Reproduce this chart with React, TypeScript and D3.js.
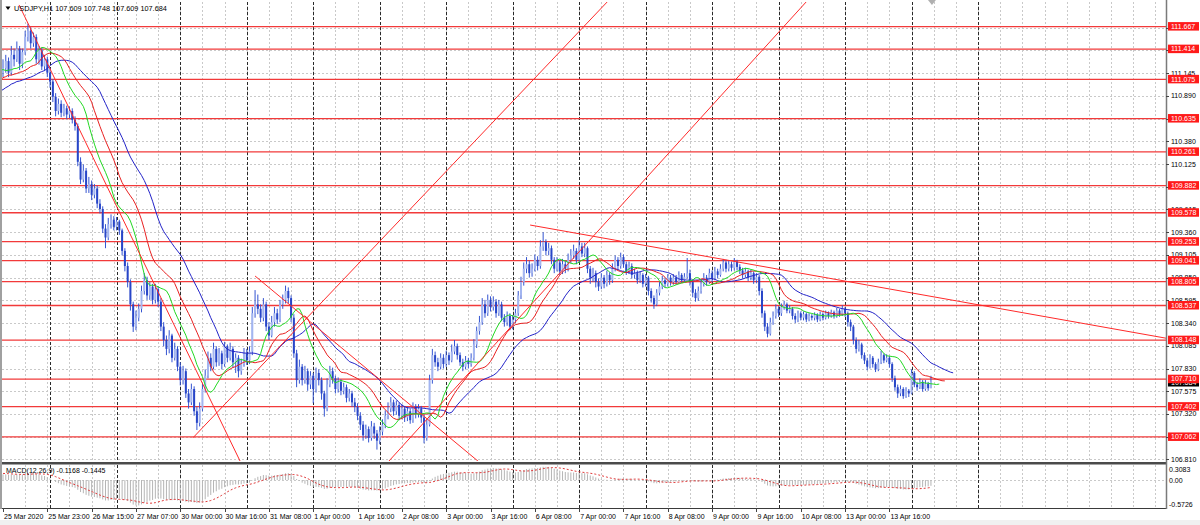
import React from "react";
import * as d3 from "d3";

// ---------- DATA (USDJPY H1) ----------
const symbolTitle = "USDJPY,H1";
const lastQuote = ["107.609", "107.748", "107.609", "107.684"];
const macdTitle = "MACD(12,26,9) -0.1168 -0.1445";

// prices of the hours before the first visible bar (indicator warm-up only)
const warmup = [110.62, 110.70, 110.66, 110.78, 110.85, 110.80, 110.92, 110.98, 110.90, 111.02, 111.10, 111.05,
  111.15, 111.08, 111.18, 111.22, 111.12, 111.25, 111.20, 111.30, 111.18, 111.25, 111.12, 111.20];

const firstOpen = 111.15;
const closes = [
  111.20,111.28,111.15,111.35,111.30,111.42,111.25,111.38,111.55,111.62,
  111.48,111.55,111.30,111.40,111.22,111.30,111.15,111.05,110.88,110.72,
  110.80,110.70,110.75,110.68,110.72,110.62,110.55,110.15,109.95,110.05,
  109.85,109.90,109.78,109.85,109.68,109.62,109.40,109.30,109.45,109.50,
  109.42,109.48,109.38,109.15,108.98,108.80,108.55,108.30,108.40,108.50,
  108.70,108.82,108.65,108.75,108.60,108.72,108.58,108.30,108.15,108.05,
  108.20,107.95,108.05,107.85,107.70,107.80,107.55,107.45,107.60,107.35,
  107.22,107.38,107.60,107.75,107.95,107.85,108.05,107.90,108.00,107.88,
  108.08,107.95,108.05,107.90,107.95,107.80,107.88,108.00,107.92,108.02,
  108.45,108.55,108.50,108.40,108.55,108.30,108.20,108.35,108.45,108.38,
  108.55,108.60,108.70,108.62,108.40,108.00,107.70,107.85,107.70,107.80,
  107.65,107.75,107.60,107.78,107.70,107.55,107.38,107.65,107.80,107.72,
  107.60,107.68,107.58,107.62,107.50,107.55,107.45,107.40,107.30,107.20,
  107.08,107.15,107.05,107.18,107.10,107.02,107.12,107.20,107.30,107.38,
  107.45,107.35,107.42,107.30,107.38,107.28,107.35,107.25,107.40,107.32,
  107.38,107.28,107.05,107.20,107.70,107.98,107.90,107.85,107.95,107.88,
  107.98,107.92,108.02,108.08,107.98,107.90,107.85,107.92,107.88,107.95,
  108.10,108.25,108.35,108.55,108.45,108.60,108.52,108.58,108.45,108.55,
  108.40,108.35,108.42,108.30,108.38,108.45,108.65,108.80,108.95,109.00,
  108.90,108.95,109.05,108.98,109.20,109.25,109.15,109.18,109.05,108.95,
  109.02,108.92,109.00,108.95,109.05,109.10,109.15,109.05,109.20,109.12,
  109.18,108.95,108.85,108.90,108.80,108.75,108.85,108.78,108.88,108.82,
  108.95,109.05,108.98,109.08,109.00,108.92,108.98,108.88,108.90,108.82,
  108.88,108.78,108.85,108.70,108.62,108.55,108.68,108.75,108.82,108.78,
  108.85,108.80,108.85,108.80,108.88,108.82,108.86,108.90,108.80,108.68,
  108.62,108.70,108.78,108.85,108.80,108.90,108.84,108.92,108.88,108.95,
  109.02,108.95,109.00,108.96,109.03,108.97,108.93,108.88,108.92,108.85,
  108.90,108.82,108.86,108.70,108.45,108.30,108.22,108.35,108.42,108.50,
  108.45,108.52,108.55,108.48,108.50,108.42,108.38,108.45,108.40,108.44,
  108.38,108.42,108.40,108.43,108.38,108.44,108.40,108.45,108.42,108.46,
  108.42,108.48,108.44,108.50,108.45,108.35,108.30,108.15,108.05,108.10,
  107.98,107.92,107.85,107.95,107.88,107.82,107.90,107.98,107.92,107.95,
  107.88,107.72,107.62,107.55,107.60,107.52,107.58,107.55,107.78,107.65,
  107.62,107.68,107.60,107.66,107.609,107.684,
];
const highs = [
  111.30,111.35,111.32,111.45,111.42,111.50,111.45,111.42,111.62,111.70,
  111.66,111.60,111.58,111.45,111.43,111.35,111.33,111.20,111.08,110.92,
  110.86,110.84,110.80,110.78,110.77,110.75,110.66,110.58,110.20,110.12,
  110.08,109.98,109.94,109.90,109.88,109.73,109.65,109.45,109.52,109.56,
  109.54,109.53,109.50,109.40,109.18,109.02,108.83,108.58,108.48,108.56,
  108.76,108.90,108.86,108.80,108.78,108.78,108.75,108.62,108.35,108.20,
  108.26,108.22,108.12,108.08,107.90,107.86,107.83,107.60,107.66,107.63,
  107.40,107.45,107.66,107.82,108.02,108.00,108.12,108.08,108.06,108.03,
  108.13,108.10,108.12,108.08,108.00,107.98,107.94,108.06,108.05,108.08,
  108.52,108.71,108.66,108.55,108.62,108.58,108.35,108.42,108.52,108.50,
  108.60,108.66,108.76,108.74,108.65,108.44,108.04,107.93,107.88,107.86,
  107.83,107.80,107.78,107.84,107.82,107.73,107.58,107.72,107.86,107.84,
  107.75,107.73,107.71,107.67,107.65,107.60,107.58,107.50,107.44,107.34,
  107.24,107.20,107.18,107.24,107.22,107.14,107.18,107.26,107.36,107.45,
  107.51,107.48,107.47,107.45,107.43,107.41,107.40,107.38,107.45,107.43,
  107.43,107.41,107.31,107.26,107.76,108.05,108.02,107.95,108.00,107.99,
  108.03,108.01,108.10,108.15,108.11,108.01,107.94,107.97,107.95,108.00,
  108.16,108.30,108.42,108.62,108.60,108.66,108.64,108.64,108.61,108.60,
  108.58,108.44,108.47,108.45,108.43,108.50,108.70,108.86,109.02,109.08,
  109.04,109.01,109.11,109.09,109.27,109.36,109.28,109.24,109.21,109.08,
  109.08,109.05,109.06,109.04,109.12,109.17,109.22,109.18,109.27,109.24,
  109.24,109.20,108.98,108.96,108.93,108.84,108.90,108.88,108.93,108.91,
  109.01,109.10,109.08,109.13,109.11,109.03,109.03,109.01,108.95,108.93,
  108.92,108.90,108.89,108.87,108.73,108.65,108.72,108.80,108.87,108.85,
  108.89,108.88,108.89,108.88,108.92,108.90,108.90,109.07,108.94,108.83,
  108.72,108.75,108.83,108.90,108.88,108.95,108.93,108.97,108.95,109.00,
  109.06,109.05,109.04,109.03,109.07,109.05,109.00,108.96,108.96,108.94,
  108.94,108.92,108.90,108.88,108.73,108.48,108.34,108.40,108.47,108.55,
  108.53,108.56,108.59,108.57,108.54,108.52,108.45,108.48,108.47,108.47,
  108.46,108.45,108.44,108.46,108.45,108.47,108.46,108.48,108.47,108.49,
  108.48,108.51,108.50,108.54,108.52,108.47,108.38,108.32,108.18,108.15,
  108.12,108.01,107.95,107.99,107.97,107.90,107.94,108.03,108.00,107.99,
  107.97,107.90,107.75,107.65,107.64,107.62,107.62,107.60,107.82,107.80,
  107.68,107.72,107.70,107.70,107.68,107.748,
];
const lows = [
  111.10,111.15,111.10,111.12,111.22,111.27,111.18,111.20,111.35,111.50,
  111.42,111.44,111.25,111.24,111.18,111.17,111.10,110.98,110.82,110.66,
  110.68,110.65,110.66,110.63,110.64,110.58,110.50,110.10,109.90,109.92,
  109.80,109.80,109.72,109.74,109.63,109.57,109.35,109.18,109.27,109.40,
  109.38,109.38,109.33,109.10,108.92,108.74,108.48,108.24,108.26,108.36,
  108.46,108.66,108.60,108.60,108.55,108.56,108.52,108.25,108.08,107.98,
  108.00,107.90,107.92,107.80,107.64,107.65,107.50,107.38,107.42,107.30,
  107.14,107.18,107.35,107.56,107.72,107.80,107.82,107.85,107.86,107.82,
  107.85,107.90,107.92,107.84,107.78,107.73,107.76,107.85,107.87,107.88,
  107.98,108.40,108.44,108.35,108.36,108.25,108.15,108.18,108.30,108.33,
  108.35,108.50,108.56,108.56,108.35,107.95,107.62,107.66,107.64,107.66,
  107.58,107.60,107.44,107.56,107.64,107.48,107.29,107.35,107.62,107.66,
  107.55,107.56,107.53,107.54,107.45,107.46,107.40,107.34,107.25,107.14,
  107.02,107.04,107.00,107.02,107.04,106.92,106.98,107.08,107.16,107.26,
  107.34,107.30,107.31,107.25,107.26,107.23,107.24,107.21,107.22,107.27,
  107.28,107.22,106.99,107.02,107.18,107.66,107.85,107.80,107.82,107.83,
  107.85,107.87,107.90,107.99,107.93,107.86,107.80,107.82,107.83,107.85,
  107.92,108.06,108.21,108.32,108.40,108.42,108.47,108.48,108.40,108.42,
  108.36,108.30,108.31,108.26,108.27,108.34,108.42,108.61,108.76,108.90,
  108.85,108.86,108.92,108.93,108.95,109.15,109.10,109.10,109.00,108.90,
  108.92,108.88,108.89,108.90,108.92,109.01,109.06,109.00,109.02,109.08,
  109.08,108.90,108.78,108.80,108.74,108.70,108.72,108.73,108.75,108.77,
  108.79,108.92,108.94,108.95,108.96,108.88,108.89,108.84,108.84,108.78,
  108.79,108.74,108.75,108.65,108.57,108.50,108.53,108.65,108.72,108.74,
  108.75,108.76,108.77,108.77,108.78,108.79,108.80,108.84,108.76,108.63,
  108.58,108.59,108.67,108.75,108.76,108.78,108.80,108.82,108.84,108.86,
  108.92,108.91,108.92,108.92,108.93,108.93,108.89,108.84,108.85,108.81,
  108.82,108.78,108.79,108.65,108.40,108.25,108.18,108.20,108.32,108.39,
  108.41,108.42,108.49,108.45,108.45,108.38,108.34,108.35,108.37,108.37,
  108.35,108.36,108.37,108.37,108.35,108.36,108.37,108.38,108.39,108.40,
  108.39,108.40,108.41,108.42,108.41,108.30,108.25,108.10,108.00,108.02,
  107.94,107.88,107.81,107.83,107.84,107.79,107.80,107.88,107.89,107.90,
  107.84,107.68,107.58,107.50,107.52,107.49,107.50,107.51,107.54,107.62,
  107.58,107.60,107.57,107.58,107.58,107.609,
];

// horizontal support/resistance levels
const levels = [111.667, 111.414, 111.075, 110.635, 110.261, 109.882, 109.578, 109.253, 109.041, 108.805,
  108.537, 108.148, 107.710, 107.402, 107.062];
const bidPrice = 107.684;

// price axis ticks
const priceTicks = [111.655, 111.400, 111.145, 110.890, 110.635, 110.380, 110.125, 109.870, 109.615, 109.360,
  109.105, 108.850, 108.595, 108.340, 108.085, 107.830, 107.575, 107.320, 107.065, 106.810];
const priceWindow = [106.792, 111.943];

// MACD panel scale
const macdTicks = [0.3083, 0.0, -0.5726];
const macdTickText = ["0.3083", "0.00", "-0.5726"];

// time labels, one every 16 hourly bars
const timeLabels = ["25 Mar 2020", "25 Mar 23:00", "26 Mar 15:00", "27 Mar 07:00", "30 Mar 00:00", "30 Mar 16:00",
  "31 Mar 08:00", "1 Apr 00:00", "1 Apr 16:00", "2 Apr 08:00", "3 Apr 00:00", "3 Apr 16:00", "6 Apr 08:00",
  "7 Apr 00:00", "7 Apr 16:00", "8 Apr 08:00", "9 Apr 00:00", "9 Apr 16:00", "10 Apr 08:00", "13 Apr 00:00",
  "13 Apr 16:00"];
const labelEvery = 16;
const gridEvery = 8;
const barsInView = 420;
// bar indexes where a new day starts (period separators)
const dayStarts = [17, 41, 64, 88, 112, 136, 160, 184, 208, 232, 256, 280, 304, 328, 352];

// trend lines: [bar1, price1, bar2, price2]
const trendLines = [
  [5.8, 111.91, 85.6, 106.79],
  [68.6, 107.053, 218.8, 111.966],
  [139.35, 106.792, 290.6, 111.966],
  [91.0, 108.868, 171.5, 106.79],
  [190.3, 109.44, 419.9, 108.17],
];

// ---------- INDICATORS ----------
function smma(src: number[], p: number): number[] {
  const out: number[] = [];
  let prev = NaN;
  for (let i = 0; i < src.length; i++) {
    if (i < p - 1) out.push(NaN);
    else if (i === p - 1) {
      prev = d3.mean(src.slice(0, p)) as number;
      out.push(prev);
    } else {
      prev = (prev * (p - 1) + src[i]) / p;
      out.push(prev);
    }
  }
  return out;
}
function ema(src: number[], p: number): number[] {
  const k = 2 / (p + 1);
  const out: number[] = [];
  let prev = src[0];
  for (let i = 0; i < src.length; i++) {
    prev = i === 0 ? src[0] : src[i] * k + prev * (1 - k);
    out.push(prev);
  }
  return out;
}

export default function App() {
  const W = 1200, H = 525;
  const L = 2, R = 1166, MT = 2, MB = 461, ST = 465, SB = 508;
  const nBars = closes.length;
  const nW = warmup.length;

  const xB = d3.scaleLinear().domain([0, 1]).range([3, 5.77]);
  const yP = d3.scaleLinear().domain(priceWindow).range([MB, MT]);
  const yM = d3.scaleLinear().domain([macdTicks[2], macdTicks[0]]).range([SB, ST]);

  const opens = closes.map((c, i) => (i === 0 ? firstOpen : closes[i - 1]));
  const medians = [...warmup, ...closes.map((_, i) => (highs[i] + lows[i]) / 2)];
  const allCloses = [...warmup, ...closes];

  const jaw = smma(medians, 13);
  const teeth = smma(medians, 8);
  const lips = smma(medians, 5);
  const shifted = (arr: number[], shift: number) =>
    arr.map((v, j) => [j - nW + shift, v] as [number, number]).filter(([b, v]) => !isNaN(v) && b >= -2);
  const line = d3.line<[number, number]>().x((d) => xB(d[0])).y((d) => yP(d[1]));

  const e12 = ema(allCloses, 12);
  const e26 = ema(allCloses, 26);
  const macd = e12.map((v, i) => v - e26[i]);
  const signal = macd.map((_, i) => (i < 8 ? NaN : (d3.mean(macd.slice(i - 8, i + 1)) as number)));
  const macdVis = macd.slice(nW);
  const sigVis = signal.slice(nW).map((v, i) => [i, v] as [number, number]);
  const sigLine = d3.line<[number, number]>().x((d) => xB(d[0])).y((d) => yM(d[1]));

  const font = "'Liberation Sans', Arial, sans-serif";
  const fs = 7;

  const gridBars = d3.range(gridEvery, barsInView, gridEvery);
  const labelBars = timeLabels.map((_, k) => k * labelEvery);
  // axis labels hidden below a level label drawn at (almost) the same place
  const shownTicks = priceTicks.filter((p) => !levels.some((l) => Math.abs(l - p) < 0.02));

  return (
    <div style={{ position: "fixed", left: 0, top: 0, width: W, height: H, background: "#fff" }}>
      <svg width={W} height={H} style={{ display: "block" }}>
        <defs>
          <clipPath id="mainClip">
            <rect x={L} y={MT} width={R - L} height={MB - MT} />
          </clipPath>
          <clipPath id="macdClip">
            <rect x={L} y={ST} width={R - L} height={SB - ST} />
          </clipPath>
        </defs>
        <rect x={0} y={0} width={W} height={H} fill="#ffffff" />
        <rect x={0} y={520} width={W} height={5} fill="#f0f0f0" />

        {/* grid main */}
        <g clipPath="url(#mainClip)">
          {priceTicks.map((p, i) => (
            <line key={"hg" + i} x1={L} x2={R} y1={Math.round(yP(p)) + 0.5} y2={Math.round(yP(p)) + 0.5}
              stroke="#c9c9c9" strokeDasharray="2,2" />
          ))}
          {gridBars.map((b) => (
            <line key={"vg" + b} x1={Math.round(xB(b)) + 0.5} x2={Math.round(xB(b)) + 0.5} y1={MT} y2={MB}
              stroke="#c9c9c9" strokeDasharray="2,2" />
          ))}
          {dayStarts.map((b) => (
            <line key={"ds" + b} x1={Math.round(xB(b)) + 0.5} x2={Math.round(xB(b)) + 0.5} y1={MT} y2={MB}
              stroke="#2a2a2a" strokeDasharray="3,2" />
          ))}
        </g>
        {/* grid macd */}
        <g clipPath="url(#macdClip)">
          <line x1={L} x2={R} y1={Math.round(yM(0)) + 0.5} y2={Math.round(yM(0)) + 0.5} stroke="#c9c9c9" strokeDasharray="2,2" />
          {gridBars.map((b) => (
            <line key={"vgm" + b} x1={Math.round(xB(b)) + 0.5} x2={Math.round(xB(b)) + 0.5} y1={ST} y2={SB}
              stroke="#c9c9c9" strokeDasharray="2,2" />
          ))}
          {dayStarts.map((b) => (
            <line key={"dsm" + b} x1={Math.round(xB(b)) + 0.5} x2={Math.round(xB(b)) + 0.5} y1={ST} y2={SB}
              stroke="#2a2a2a" strokeDasharray="3,2" />
          ))}
        </g>

        {/* levels */}
        <g clipPath="url(#mainClip)">
          {levels.map((p, i) => (
            <line key={"lv" + i} x1={L} x2={R} y1={yP(p)} y2={yP(p)} stroke="#f23a3a" strokeWidth={1.3} />
          ))}
        </g>

        {/* candles */}
        <g clipPath="url(#mainClip)">
          {closes.map((c, i) => {
            const o = opens[i];
            const cx = xB(i);
            const top = yP(Math.max(o, c));
            const bot = yP(Math.min(o, c));
            const bull = c >= o;
            return (
              <g key={"c" + i}>
                <line x1={cx} x2={cx} y1={yP(highs[i])} y2={yP(lows[i])} stroke="#3454d1" strokeWidth={1} />
                <rect x={cx - 1} y={top} width={2} height={Math.max(1, bot - top)}
                  fill={bull ? "#a3b5f0" : "#2846c8"} />
              </g>
            );
          })}
        </g>

        {/* alligator lines */}
        <g clipPath="url(#mainClip)" fill="none">
          <path d={line(shifted(jaw, 8)) || ""} stroke="#2323c8" strokeWidth={1} />
          <path d={line(shifted(teeth, 5)) || ""} stroke="#e82020" strokeWidth={1} />
          <path d={line(shifted(lips, 3)) || ""} stroke="#22d822" strokeWidth={1} />
        </g>

        {/* trend lines */}
        <g clipPath="url(#mainClip)">
          {trendLines.map((t, i) => (
            <line key={"tl" + i} x1={xB(t[0])} y1={yP(t[1])} x2={xB(t[2])} y2={yP(t[3])} stroke="#ff2a2a" strokeWidth={1} />
          ))}
        </g>

        {/* MACD */}
        <g clipPath="url(#macdClip)">
          {macdVis.map((v, i) => (
            <line key={"h" + i} x1={xB(i)} x2={xB(i)} y1={yM(0)} y2={yM(v)} stroke="#b5b5b5" strokeWidth={1} />
          ))}
          <path d={sigLine(sigVis) || ""} fill="none" stroke="#e03a3a" strokeWidth={1} strokeDasharray="2,2" />
        </g>

        {/* frames */}
        <rect x={0} y={0} width={2} height={509} fill="#a0a0a0" />
        <rect x={L} y={462} width={R - L + 1} height={2.5} fill="#4a4a4a" />
        <line x1={L} x2={R} y1={508.5} y2={508.5} stroke="#3a3a3a" />
        <line x1={R + 0.5} x2={R + 0.5} y1={0} y2={509} stroke="#7a7a7a" strokeWidth={1.5} />

        {/* price axis */}
        {priceTicks.map((p, i) => (
          <line key={"ptk" + i} x1={R} x2={R + 3} y1={Math.round(yP(p)) + 0.5} y2={Math.round(yP(p)) + 0.5} stroke="#444" />
        ))}
        {shownTicks.map((p, i) => (
          <text key={"pt" + i} x={1171} y={yP(p) + 2.5} fontFamily={font} fontSize={fs} fill="#000">{p.toFixed(3)}</text>
        ))}
        <g>
          <rect x={1168} y={yP(bidPrice) - 3} width={31} height={8} fill="#000" />
          <text x={1171} y={yP(bidPrice) + 3.5} fontFamily={font} fontSize={fs} fill="#fff">{bidPrice.toFixed(3)}</text>
        </g>
        {levels.map((p, i) => (
          <g key={"ll" + i}>
            <rect x={1168} y={yP(p) - 4.5} width={31} height={8.5} fill="#ff1a1a" />
            <text x={1171} y={yP(p) + 2.3} fontFamily={font} fontSize={fs} fill="#fff">{p.toFixed(3)}</text>
          </g>
        ))}

        {/* macd axis */}
        {macdTicks.map((v, i) => (
          <text key={"mt" + i} x={1169} y={i === 0 ? 472 : i === 1 ? yM(v) + 2.5 : 506.5} fontFamily={font} fontSize={fs} fill="#000">
            {macdTickText[i]}
          </text>
        ))}

        {/* time axis */}
        {labelBars.map((b, k) => (
          <g key={"tx" + k}>
            <line x1={Math.round(xB(b)) + 0.5} x2={Math.round(xB(b)) + 0.5} y1={508} y2={512} stroke="#444" />
            <text x={xB(b) + 1} y={518.5} fontFamily={font} fontSize={fs} fill="#000">{timeLabels[k]}</text>
          </g>
        ))}

        {/* titles */}
        <polygon points="5.5,6.5 10.5,6.5 8,10" fill="#000" />
        <text x={14} y={10.8} fontFamily={font} fontSize={7.3} fill="#000">
          {`${symbolTitle} ${lastQuote.join(" ")}`}
        </text>
        <text x={6} y={473} fontFamily={font} fontSize={fs} fill="#000">{macdTitle}</text>

        {/* chart shift marker */}
        <polygon points={`${xB(nBars - 1) - 3},0 ${xB(nBars - 1) + 5},0 ${xB(nBars - 1) + 1},5`} fill="#b0b0b0" />
      </svg>
    </div>
  );
}
